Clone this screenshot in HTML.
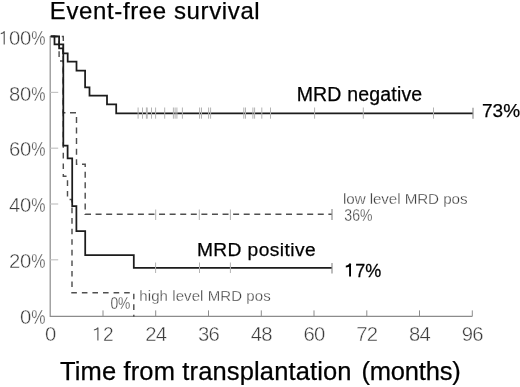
<!DOCTYPE html>
<html><head><meta charset="utf-8"><style>
html,body{margin:0;padding:0;background:#fff;width:520px;height:387px;overflow:hidden}
svg{display:block;font-family:"Liberation Sans",sans-serif;will-change:transform}
</style></head><body>
<svg width="520" height="387" viewBox="0 0 520 387">
<defs><filter id="b" x="0" y="0" width="1" height="1"><feGaussianBlur stdDeviation="0.3"/></filter></defs>
<rect width="520" height="387" fill="#fff"/>
<g filter="url(#b)">
<path d="M50.2 36.1 V316.4 H472.3" fill="none" stroke="#8c8c8c" stroke-width="1.2"/>
<line x1="50.2" y1="92.4" x2="58.2" y2="92.4" stroke="#c4c4c4" stroke-width="1.2"/>
<line x1="50.2" y1="148.2" x2="58.2" y2="148.2" stroke="#c4c4c4" stroke-width="1.2"/>
<line x1="50.2" y1="204.0" x2="58.2" y2="204.0" stroke="#c4c4c4" stroke-width="1.2"/>
<line x1="50.2" y1="259.8" x2="58.2" y2="259.8" stroke="#c4c4c4" stroke-width="1.2"/>
<line x1="103.0" y1="316.4" x2="103.0" y2="310.4" stroke="#8c8c8c" stroke-width="1"/>
<line x1="155.7" y1="316.4" x2="155.7" y2="310.4" stroke="#8c8c8c" stroke-width="1"/>
<line x1="208.5" y1="316.4" x2="208.5" y2="310.4" stroke="#8c8c8c" stroke-width="1"/>
<line x1="261.3" y1="316.4" x2="261.3" y2="310.4" stroke="#8c8c8c" stroke-width="1"/>
<line x1="314.0" y1="316.4" x2="314.0" y2="310.4" stroke="#8c8c8c" stroke-width="1"/>
<line x1="366.8" y1="316.4" x2="366.8" y2="310.4" stroke="#8c8c8c" stroke-width="1"/>
<line x1="419.5" y1="316.4" x2="419.5" y2="310.4" stroke="#8c8c8c" stroke-width="1"/>
<line x1="472.3" y1="316.4" x2="472.3" y2="310.4" stroke="#8c8c8c" stroke-width="1"/>
<path d="M50.7 36.4 H63.3 V112.8 H76.5 V164.3 H85.2 V214.2 H332" fill="none" stroke="#505050" stroke-width="1.45" stroke-dasharray="6 4.58" stroke-dashoffset="10.08"/>
<path d="M50.7 36.4 H59.1 V61 H63.3 V176.3 H67.5 V199.4 H72 V292.8 H133.8 V316.8" fill="none" stroke="#505050" stroke-width="1.45" stroke-dasharray="5.6 4.97" stroke-dashoffset="8.4"/>
<path d="M50.7 36.4 H59.1 V48.3 H63.1 V53.4 H67.7 V61.7 H76.5 V70.5 H85.1 V87.4 H89.5 V95.6 H107 V104.3 H116.2 V113.4 H473" fill="none" stroke="#1a1a1a" stroke-width="1.75"/>
<path d="M50.7 36.4 H54.5 V44.4 H63.3 V145.7 H67.6 V158.4 H72.2 V206.2 H76.4 V231 H85.2 V255 H133.8 V267.9 H332" fill="none" stroke="#1a1a1a" stroke-width="1.75"/>
<line x1="138.1" y1="107.5" x2="138.1" y2="118.7" stroke="#b3b3b3" stroke-width="1"/>
<line x1="142.5" y1="107.5" x2="142.5" y2="118.7" stroke="#b3b3b3" stroke-width="1"/>
<line x1="146.4" y1="107.5" x2="146.4" y2="118.7" stroke="#b3b3b3" stroke-width="1"/>
<line x1="147.2" y1="107.5" x2="147.2" y2="118.7" stroke="#b3b3b3" stroke-width="1"/>
<line x1="151.5" y1="107.5" x2="151.5" y2="118.7" stroke="#b3b3b3" stroke-width="1"/>
<line x1="155.6" y1="107.5" x2="155.6" y2="118.7" stroke="#b3b3b3" stroke-width="1"/>
<line x1="164.7" y1="107.5" x2="164.7" y2="118.7" stroke="#b3b3b3" stroke-width="1"/>
<line x1="173.4" y1="107.5" x2="173.4" y2="118.7" stroke="#b3b3b3" stroke-width="1"/>
<line x1="175.1" y1="107.5" x2="175.1" y2="118.7" stroke="#b3b3b3" stroke-width="1"/>
<line x1="176.9" y1="107.5" x2="176.9" y2="118.7" stroke="#b3b3b3" stroke-width="1"/>
<line x1="182.4" y1="107.5" x2="182.4" y2="118.7" stroke="#b3b3b3" stroke-width="1"/>
<line x1="199.6" y1="107.5" x2="199.6" y2="118.7" stroke="#b3b3b3" stroke-width="1"/>
<line x1="201.5" y1="107.5" x2="201.5" y2="118.7" stroke="#b3b3b3" stroke-width="1"/>
<line x1="208.6" y1="107.5" x2="208.6" y2="118.7" stroke="#b3b3b3" stroke-width="1"/>
<line x1="210.6" y1="107.5" x2="210.6" y2="118.7" stroke="#b3b3b3" stroke-width="1"/>
<line x1="243.8" y1="107.5" x2="243.8" y2="118.7" stroke="#b3b3b3" stroke-width="1"/>
<line x1="245.5" y1="107.5" x2="245.5" y2="118.7" stroke="#b3b3b3" stroke-width="1"/>
<line x1="252.9" y1="107.5" x2="252.9" y2="118.7" stroke="#b3b3b3" stroke-width="1"/>
<line x1="254.6" y1="107.5" x2="254.6" y2="118.7" stroke="#b3b3b3" stroke-width="1"/>
<line x1="261.8" y1="107.5" x2="261.8" y2="118.7" stroke="#b3b3b3" stroke-width="1"/>
<line x1="270.5" y1="107.5" x2="270.5" y2="118.7" stroke="#b3b3b3" stroke-width="1"/>
<line x1="314.6" y1="107.5" x2="314.6" y2="118.7" stroke="#b3b3b3" stroke-width="1"/>
<line x1="363.3" y1="107.5" x2="363.3" y2="118.7" stroke="#b3b3b3" stroke-width="1"/>
<line x1="433.5" y1="107.5" x2="433.5" y2="118.7" stroke="#b3b3b3" stroke-width="1"/>
<line x1="473" y1="107.8" x2="473" y2="118.8" stroke="#909090" stroke-width="1.2"/>
<line x1="155.6" y1="262.5" x2="155.6" y2="273" stroke="#b3b3b3" stroke-width="1"/>
<line x1="199.5" y1="262.5" x2="199.5" y2="273" stroke="#b3b3b3" stroke-width="1"/>
<line x1="230.4" y1="262.5" x2="230.4" y2="273" stroke="#b3b3b3" stroke-width="1"/>
<line x1="332" y1="263" x2="332" y2="273.5" stroke="#909090" stroke-width="1.2"/>
<line x1="155.7" y1="209.5" x2="155.7" y2="220" stroke="#b3b3b3" stroke-width="1"/>
<line x1="199.3" y1="209.5" x2="199.3" y2="220" stroke="#b3b3b3" stroke-width="1"/>
<line x1="230.4" y1="209.5" x2="230.4" y2="220" stroke="#b3b3b3" stroke-width="1"/>
<line x1="332" y1="209" x2="332" y2="220" stroke="#909090" stroke-width="1.2"/>
<text x="49.8" y="19.3" font-size="24" fill="#000" text-anchor="start" letter-spacing="0.62" stroke="#000" stroke-width="0.25">Event-free survival</text>
<text x="296.7" y="101.2" font-size="19.5" fill="#000" text-anchor="start" letter-spacing="0.18" stroke="#000" stroke-width="0.25">MRD negative</text>
<text x="482" y="117" font-size="19" fill="#000" text-anchor="start" letter-spacing="0" stroke="#000" stroke-width="0.25">73%</text>
<text x="343" y="203.6" font-size="15.2" fill="#383838" text-anchor="start" letter-spacing="-0.08" stroke="#fff" stroke-width="0.3">low level MRD pos</text>
<text transform="translate(344.3 220.5) scale(0.88 1)" font-size="16" fill="#383838" text-anchor="start" letter-spacing="0" stroke="#fff" stroke-width="0.3">36%</text>
<text x="196.9" y="255.9" font-size="19.2" fill="#000" text-anchor="start" letter-spacing="0.42" stroke="#000" stroke-width="0.25">MRD positive</text>
<text transform="translate(355.3 276.6) scale(0.95 1)" font-size="19" fill="#000" text-anchor="start" letter-spacing="0" stroke="#000" stroke-width="0.25">7%</text>
<text transform="translate(110.4 308.7) scale(0.84 1)" font-size="16.5" fill="#383838" text-anchor="start" letter-spacing="0" stroke="#fff" stroke-width="0.3">0%</text>
<text x="139.3" y="300.6" font-size="15" fill="#383838" text-anchor="start" letter-spacing="0.08" stroke="#fff" stroke-width="0.3">high level MRD pos</text>
<text x="60" y="379.9" font-size="25.5" fill="#000" text-anchor="start" letter-spacing="0.14" stroke="#000" stroke-width="0.25">Time from transplantation</text>
<text x="361.5" y="379.9" font-size="25.5" fill="#000" text-anchor="start" letter-spacing="-0.2" stroke="#000" stroke-width="0.25">(months)</text>
<path d="M350.05 276.5 V263.6 M350.62 263.8 Q348.5625 266.45000000000005 345.8 266.6" fill="none" stroke="#000" stroke-width="1.9"/>
<path d="M4.2 44.5 V31.2 M4.53 31.4 Q3.0100000000000002 33.480000000000004 0.8 33.6" fill="none" stroke="#505050" stroke-width="1.1"/>
<path d="M97.9 340.6 V327.5 M98.23 327.7 Q96.5 329.875 93.9 330.0" fill="none" stroke="#505050" stroke-width="1.1"/>
<text x="30.9" y="44.5" font-size="20.3" fill="#3c3c3c" text-anchor="end" letter-spacing="-0.3" stroke="#fff" stroke-width="0.4">00</text>
<text transform="translate(31.2 44.5) scale(0.79 1)" font-size="20.3" fill="#3c3c3c" text-anchor="start" letter-spacing="0" stroke="#fff" stroke-width="0.4">%</text>
<text x="30.9" y="100.5" font-size="20.3" fill="#3c3c3c" text-anchor="end" letter-spacing="-0.3" stroke="#fff" stroke-width="0.4">80</text>
<text transform="translate(31.2 100.5) scale(0.79 1)" font-size="20.3" fill="#3c3c3c" text-anchor="start" letter-spacing="0" stroke="#fff" stroke-width="0.4">%</text>
<text x="30.9" y="156.3" font-size="20.3" fill="#3c3c3c" text-anchor="end" letter-spacing="-0.3" stroke="#fff" stroke-width="0.4">60</text>
<text transform="translate(31.2 156.3) scale(0.79 1)" font-size="20.3" fill="#3c3c3c" text-anchor="start" letter-spacing="0" stroke="#fff" stroke-width="0.4">%</text>
<text x="30.9" y="212.2" font-size="20.3" fill="#3c3c3c" text-anchor="end" letter-spacing="-0.3" stroke="#fff" stroke-width="0.4">40</text>
<text transform="translate(31.2 212.2) scale(0.79 1)" font-size="20.3" fill="#3c3c3c" text-anchor="start" letter-spacing="0" stroke="#fff" stroke-width="0.4">%</text>
<text x="30.9" y="268.1" font-size="20.3" fill="#3c3c3c" text-anchor="end" letter-spacing="-0.3" stroke="#fff" stroke-width="0.4">20</text>
<text transform="translate(31.2 268.1) scale(0.79 1)" font-size="20.3" fill="#3c3c3c" text-anchor="start" letter-spacing="0" stroke="#fff" stroke-width="0.4">%</text>
<text x="30.9" y="324.4" font-size="20.3" fill="#3c3c3c" text-anchor="end" letter-spacing="-0.3" stroke="#fff" stroke-width="0.4">0</text>
<text transform="translate(31.2 324.4) scale(0.79 1)" font-size="20.3" fill="#3c3c3c" text-anchor="start" letter-spacing="0" stroke="#fff" stroke-width="0.4">%</text>
<text x="50.2" y="341.3" font-size="20.3" fill="#3c3c3c" text-anchor="middle" letter-spacing="-0.8" stroke="#fff" stroke-width="0.4">0</text>
<text transform="translate(103.0 341.3) scale(0.94 1)" font-size="20.3" fill="#3c3c3c" text-anchor="start" letter-spacing="0" stroke="#fff" stroke-width="0.4">2</text>
<text x="155.72500000000002" y="341.3" font-size="20.3" fill="#3c3c3c" text-anchor="middle" letter-spacing="-0.8" stroke="#fff" stroke-width="0.4">24</text>
<text x="208.4875" y="341.3" font-size="20.3" fill="#3c3c3c" text-anchor="middle" letter-spacing="-0.8" stroke="#fff" stroke-width="0.4">36</text>
<text x="261.25000000000006" y="341.3" font-size="20.3" fill="#3c3c3c" text-anchor="middle" letter-spacing="-0.8" stroke="#fff" stroke-width="0.4">48</text>
<text x="314.0125" y="341.3" font-size="20.3" fill="#3c3c3c" text-anchor="middle" letter-spacing="-0.8" stroke="#fff" stroke-width="0.4">60</text>
<text x="366.775" y="341.3" font-size="20.3" fill="#3c3c3c" text-anchor="middle" letter-spacing="-0.8" stroke="#fff" stroke-width="0.4">72</text>
<text x="419.5375" y="341.3" font-size="20.3" fill="#3c3c3c" text-anchor="middle" letter-spacing="-0.8" stroke="#fff" stroke-width="0.4">84</text>
<text x="472.30000000000007" y="341.3" font-size="20.3" fill="#3c3c3c" text-anchor="middle" letter-spacing="-0.8" stroke="#fff" stroke-width="0.4">96</text>
</g>
</svg>
</body></html>
